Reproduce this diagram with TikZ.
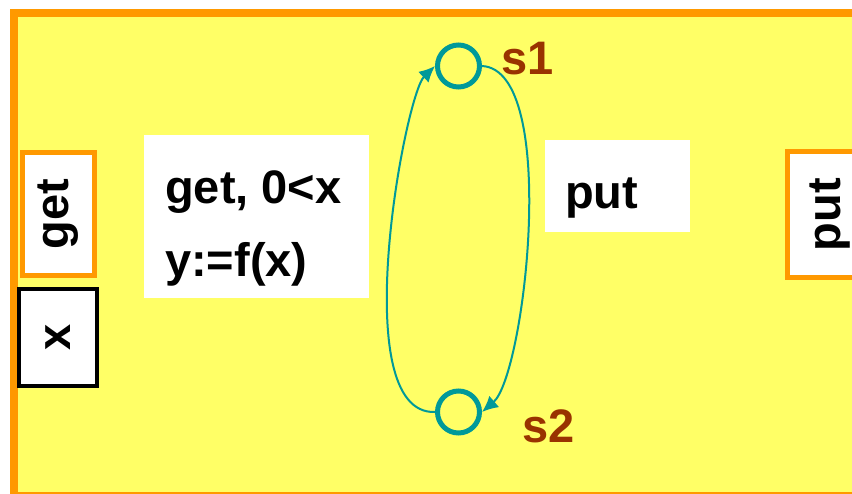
\documentclass[tikz,border=0pt]{standalone}
\usepackage{fontspec}
\setmainfont{Liberation Sans}
\usetikzlibrary{arrows.meta}
\definecolor{frameOrange}{RGB}{255,153,0}
\definecolor{paneYellow}{RGB}{255,255,102}
\definecolor{stateTeal}{RGB}{0,153,153}
\definecolor{nameBrown}{RGB}{153,51,0}
\newcommand{\diagfont}{\fontsize{47}{73}\selectfont\bfseries}
\tikzset{
    portbox/.style={
        rectangle,
        draw=frameOrange,
        line width=5pt,
        fill=white,
        rotate=90,
        inner sep=0pt,
        font=\diagfont
    },
    varbox/.style={
        rectangle,
        draw=black,
        line width=4pt,
        fill=white,
        rotate=90,
        inner sep=0pt,
        font=\diagfont
    },
    labelbox/.style={rectangle, fill=white, inner sep=0pt},
    labeltext/.style={inner sep=0pt, align=left, font=\diagfont},
    statecirc/.style={circle, draw=stateTeal, line width=5pt, minimum size=42pt, inner sep=0pt},
    statename/.style={inner sep=0pt, text=nameBrown, font=\diagfont},
    transarrow/.style={-{Latex[length=16pt, width=15pt]}, line width=2pt, draw=stateTeal}
}

\begin{document}
\begin{tikzpicture}[x=1pt, y=-1pt]
    \useasboundingbox (0,0) rectangle (852,493);
    \clip (0,0) rectangle (852,493);
    \draw[draw=frameOrange, fill=paneYellow, line width=8pt] (14,12.5) rectangle (880,496);
    % ports on the frame
    \node[portbox, minimum width=123pt, minimum height=72pt] (getport) at (58.5,214) {get};
    \node[varbox, minimum width=97pt, minimum height=78pt] (xvar) at (58,337.5) {x};
    \node[portbox, minimum width=126pt, minimum height=85pt] (putport) at (830,214.5) {put};
    % transition labels
    \node[labelbox, minimum width=225pt, minimum height=163pt] (getbox) at (256.5,216.5) {};
    \node[labeltext, anchor=north west] (gettext) at (165,170) {get, 0<x\\y:=f(x)};
    \node[labelbox, minimum width=145pt, minimum height=92pt] (putbox) at (617.5,186) {};
    \node[labeltext, anchor=base west] (puttext) at (565,208) {put};
    % states
    \node[statecirc] (s1) at (458.5,66) {};
    \node[statecirc] (s2) at (458.5,412) {};
    \node[statename, anchor=base west] (s1name) at (501,74) {s1};
    \node[statename, anchor=base west] (s2name) at (522,442) {s2};
    \draw[transarrow] (s2.west) .. controls (345,415) and (405,95) .. (s1.west);
    \draw[transarrow] (s1.east) .. controls (560,70) and (525,375) .. (s2.east);
\end{tikzpicture}
\end{document}
